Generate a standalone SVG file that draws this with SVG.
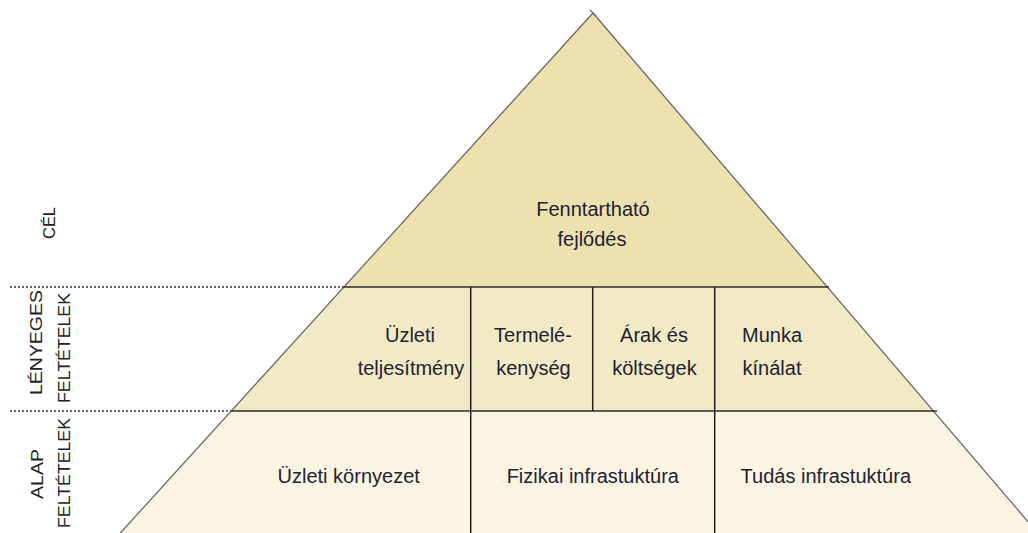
<svg xmlns="http://www.w3.org/2000/svg" width="1028" height="533" viewBox="0 0 1028 533">
  <style>
    .t { font-family: "Liberation Sans", Arial, sans-serif; font-size: 20px; fill: #1e2233; text-anchor: middle; }
    .side { font-family: "Liberation Sans", Arial, sans-serif; font-size: 17px; fill: #222222; text-anchor: middle; }
    .hline { stroke: #2b2b2b; stroke-width: 1.6; fill: none; }
    .vline { stroke: #1f1f1f; stroke-width: 1.5; fill: none; }
    .dots { stroke: #333333; stroke-width: 1.5; stroke-dasharray: 2 2; fill: none; }
    .edge { stroke: #6a6a6a; stroke-width: 1.3; fill: none; }
  </style>
  <rect width="1028" height="533" fill="#ffffff"/>

  <g id="cel">
    <polygon points="593,13 343.9,287 827,287" fill="#EDE1AE"/>
    <text class="t" x="593" y="216">Fenntartható</text>
    <text class="t" x="592" y="246">fejlődés</text>
  </g>

  <g id="lenyeges">
    <polygon points="343.9,287 827,287 932.9,411 231.2,411" fill="#F2E9C5"/>
  </g>
  <g id="uzleti-teljesitmeny">
    <text class="t" x="410" y="342">Üzleti</text>
    <text class="t" x="411" y="375">teljesítmény</text>
  </g>
  <g id="termelekenyseg">
    <text class="t" x="533" y="342">Termelé-</text>
    <text class="t" x="533.5" y="375">kenység</text>
  </g>
  <g id="arak">
    <text class="t" x="654" y="342">Árak és</text>
    <text class="t" x="654.5" y="375">költségek</text>
  </g>
  <g id="munka">
    <text class="t" x="772" y="342">Munka</text>
    <text class="t" x="772" y="375">kínálat</text>
  </g>

  <g id="alap">
    <polygon points="231.2,411 932.9,411 1037.7,533 120.3,533" fill="#FAF5E2"/>
  </g>
  <g id="uzleti-kornyezet">
    <text class="t" x="348.7" y="483">Üzleti környezet</text>
  </g>
  <g id="fizikai">
    <text class="t" x="592.8" y="483">Fizikai infrastuktúra</text>
  </g>
  <g id="tudas">
    <text class="t" x="825.8" y="483">Tudás infrastuktúra</text>
  </g>

  <g id="connectors">
    <line class="edge" x1="593" y1="13" x2="120.3" y2="533"/>
    <line class="edge" x1="593" y1="13" x2="1037.7" y2="533"/>
    <line class="edge" x1="590" y1="10" x2="596" y2="16"/>
    <line class="hline" x1="343.9" y1="287" x2="829" y2="287"/>
    <line class="hline" x1="231.2" y1="411" x2="937" y2="411"/>
    <line class="dots" x1="10" y1="287" x2="343.9" y2="287"/>
    <line class="dots" x1="10" y1="411" x2="231.2" y2="411"/>
    <line class="vline" x1="470.7" y1="287" x2="470.7" y2="533"/>
    <line class="vline" x1="592.7" y1="287" x2="592.7" y2="411"/>
    <line class="vline" x1="714.7" y1="287" x2="714.7" y2="533"/>
  </g>

  <g id="labels">
    <text class="side" transform="translate(55,223) rotate(-90)" textLength="32" lengthAdjust="spacingAndGlyphs">CÉL</text>
    <text class="side" transform="translate(42,342.5) rotate(-90)" textLength="105" lengthAdjust="spacingAndGlyphs">LÉNYEGES</text>
    <text class="side" transform="translate(70,348) rotate(-90)" textLength="110" lengthAdjust="spacingAndGlyphs">FELTÉTELEK</text>
    <text class="side" transform="translate(43,474) rotate(-90)" textLength="50" lengthAdjust="spacingAndGlyphs">ALAP</text>
    <text class="side" transform="translate(70,473) rotate(-90)" textLength="110" lengthAdjust="spacingAndGlyphs">FELTÉTELEK</text>
  </g>
</svg>
